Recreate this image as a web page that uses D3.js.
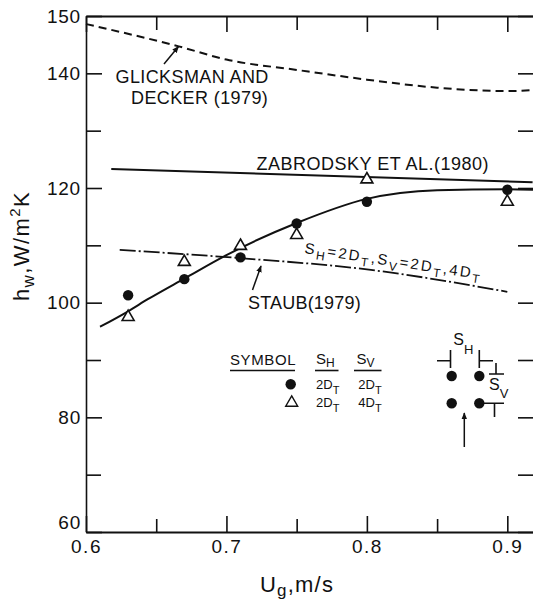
<!DOCTYPE html>
<html>
<head>
 <title>Wall heat transfer coefficient vs gas velocity</title>
 <script src="https://d3js.org/d3.v7.min.js"></script>
 <style>
   body { margin: 0; background: #fff; }
   svg { display: block; font-family: "Liberation Sans", Arial, Helvetica, sans-serif; }
   text { fill: #111; }
 </style>
</head>
<body>
 <div id="chart"></div>
 <script>
   // ticks
   let xMajor = [0.6, 0.7, 0.8, 0.9];
   let xMinor = [0.65, 0.75, 0.85];
   let yLabeled = [60, 80, 100, 120, 140, 150];
   let yMinor = [70, 90, 110, 130];

   // measured points, S_H = 2D_T, S_V = 2D_T (filled circles)
   let circleU = [0.63, 0.67, 0.71, 0.75, 0.80, 0.90];
   let circleH = [101.3, 104.1, 107.9, 113.8, 117.6, 119.7];
   // measured points, S_H = 2D_T, S_V = 4D_T (open triangles)
   let triangleU = [0.63, 0.67, 0.71, 0.75, 0.80, 0.90];
   let triangleH = [97.5, 107.1, 109.9, 111.8, 121.5, 117.6];

   // fitted curve through the data
   let fitU = [0.61, 0.63, 0.644, 0.67, 0.70, 0.75, 0.80, 0.85, 0.90, 0.919];
   let fitH = [95.8, 98.5, 100.6, 104.2, 108.3, 113.9, 118.1, 119.6, 119.8, 119.7];

   // correlations
   let glicksmanU = [0.6, 0.666, 0.7, 0.75, 0.8, 0.85, 0.9, 0.919];
   let glicksmanH = [148.6, 144.7, 142.4, 140.6, 138.9, 137.5, 136.9, 137.1];
   let zabrodskyU = [0.618, 0.918];
   let zabrodskyH = [123.3, 121.0];
   let staubU = [0.624, 0.708, 0.8, 0.9];
   let staubH = [109.2, 107.8, 105.8, 101.9];

   let width = 533, height = 601;

   let svg = d3.select('#chart').append('svg')
     .attr('width', width)
     .attr('height', height);

   // arrow head
   svg.append('defs').append('marker')
     .attr('id', 'head')
     .attr('viewBox', '0 0 10 10')
     .attr('refX', 9).attr('refY', 5)
     .attr('markerWidth', 7).attr('markerHeight', 7)
     .attr('markerUnits', 'userSpaceOnUse')
     .attr('orient', 'auto')
     .append('path')
     .attr('d', 'M0,1 L10,5 L0,9 Z')
     .attr('fill', '#111');

   // the right edge of the frame sits just outside the picture
   let x = d3.scaleLinear().domain([0.6, 0.919]).range([86, 534]);
   let y = d3.scaleLinear().domain([60, 150]).range([532, 16]);

   function styleAxis(g, w) {
     g.select('.domain').attr('stroke', '#111').attr('stroke-width', w);
     g.selectAll('.tick line').attr('stroke', '#111').attr('stroke-width', 1.6);
     g.selectAll('.tick text')
       .attr('fill', '#111')
       .style('font-size', '19px')
       .style('font-family', '"Liberation Sans", Arial, sans-serif');
   }

   // bottom axis
   svg.append('g')
     .attr('transform', 'translate(0,532)')
     .call(d3.axisBottom(x).tickValues(xMajor).tickFormat(d3.format('.1f'))
       .tickSizeInner(-16).tickSizeOuter(0).tickPadding(8))
     .call(g => styleAxis(g, 2))
     .call(g => g.selectAll('.tick text').attr('letter-spacing', 1.5));
   svg.append('g')
     .attr('transform', 'translate(0,532)')
     .call(d3.axisBottom(x).tickValues(xMinor).tickFormat('')
       .tickSizeInner(-13).tickSizeOuter(0))
     .call(g => styleAxis(g, 0));

   // top axis
   svg.append('g')
     .attr('transform', 'translate(0,16)')
     .call(d3.axisTop(x).tickValues(xMajor).tickFormat('')
       .tickSizeInner(-16).tickSizeOuter(0))
     .call(g => styleAxis(g, 2.2));
   svg.append('g')
     .attr('transform', 'translate(0,16)')
     .call(d3.axisTop(x).tickValues(xMinor).tickFormat('')
       .tickSizeInner(-14).tickSizeOuter(0))
     .call(g => styleAxis(g, 0));

   // left axis
   svg.append('g')
     .attr('transform', 'translate(86,0)')
     .call(d3.axisLeft(y).tickValues(yLabeled)
       .tickSizeInner(-16).tickSizeOuter(0).tickPadding(5))
     .call(g => styleAxis(g, 1.6))
     .call(g => g.selectAll('.tick text').attr('letter-spacing', 0.8))
     // the bottom label sits a little higher, clear of 0.6
     .call(g => g.selectAll('.tick text').filter(d => d === 60).attr('y', -10));
   svg.append('g')
     .attr('transform', 'translate(86,0)')
     .call(d3.axisLeft(y).tickValues(yMinor).tickFormat('')
       .tickSizeInner(-15).tickSizeOuter(0))
     .call(g => styleAxis(g, 0));

   // right axis (ticks only show)
   svg.append('g')
     .attr('transform', 'translate(534,0)')
     .call(d3.axisRight(y).tickValues(yLabeled.concat(yMinor)).tickFormat('')
       .tickSizeInner(-16).tickSizeOuter(0))
     .call(g => styleAxis(g, 1.6));

   // axis titles
   let xt = svg.append('text')
     .attr('x', 260).attr('y', 592)
     .style('font-size', '22px')
     .attr('letter-spacing', 1.2);
   xt.append('tspan').text('U');
   xt.append('tspan').attr('dy', 4).style('font-size', '17px').text('g');
   xt.append('tspan').attr('dy', -4).text(',m/s');

   let yt = svg.append('text')
     .attr('transform', 'translate(28.5,246) rotate(-90)')
     .attr('text-anchor', 'middle')
     .style('font-size', '22px')
     .attr('letter-spacing', 1.4);
   yt.append('tspan').text('h');
   yt.append('tspan').attr('dy', 5).style('font-size', '17px').text('w');
   yt.append('tspan').attr('dy', -5).text(',W/m');
   yt.append('tspan').attr('dy', -9).style('font-size', '15px').text('2');
   yt.append('tspan').attr('dy', 9).text('K');

   // curves
   let line = d3.line()
     .x(d => x(d[0]))
     .y(d => y(d[1]))
     .curve(d3.curveMonotoneX);

   svg.append('path')
     .datum(d3.zip(glicksmanU, glicksmanH))
     .attr('d', line)
     .attr('fill', 'none').attr('stroke', '#111').attr('stroke-width', 2)
     .attr('stroke-dasharray', '8,5');

   svg.append('path')
     .datum(d3.zip(zabrodskyU, zabrodskyH))
     .attr('d', line)
     .attr('fill', 'none').attr('stroke', '#111').attr('stroke-width', 2);

   svg.append('path')
     .datum(d3.zip(staubU, staubH))
     .attr('d', line)
     .attr('fill', 'none').attr('stroke', '#111').attr('stroke-width', 1.8)
     .attr('stroke-dasharray', '16,3,2,3');

   svg.append('path')
     .datum(d3.zip(fitU, fitH))
     .attr('d', line)
     .attr('fill', 'none').attr('stroke', '#111').attr('stroke-width', 2);

   // data markers
   let tri = d3.symbol().type(d3.symbolTriangle).size(62);

   svg.selectAll('.tri')
     .data(d3.zip(triangleU, triangleH))
     .enter()
     .append('path')
     .attr('class', 'tri')
     .attr('d', tri)
     .attr('transform', d => `translate(${x(d[0])},${y(d[1])})`)
     .attr('fill', '#fff').attr('stroke', '#111').attr('stroke-width', 1.6);

   svg.selectAll('.dot')
     .data(d3.zip(circleU, circleH))
     .enter()
     .append('circle')
     .attr('class', 'dot')
     .attr('cx', d => x(d[0]))
     .attr('cy', d => y(d[1]))
     .attr('r', 5.2)
     .attr('fill', '#111');

   // labels on the curves
   function label(tx, ty, str, ls) {
     return svg.append('text')
       .attr('x', tx).attr('y', ty)
       .style('font-size', '18px')
       .attr('letter-spacing', ls || 0)
       .text(str);
   }
   label(115.5, 82.6, 'GLICKSMAN AND', 0.4);
   label(131, 103.7, 'DECKER (1979)', 0.4);
   label(256.5, 170, 'ZABRODSKY ET AL.(1980)', 0.5);
   label(248, 308.5, 'STAUB(1979)', 0.2);

   // S_H=2D_T,S_V=2D_T,4D_T along the fitted data
   let sl = svg.append('text')
     .attr('transform', 'translate(304,253) rotate(8.4)')
     .style('font-size', '15px')
     .attr('letter-spacing', 2.2);
   [['S', 0], ['H', 1], ['=2D', 0], ['T', 1], [',S', 0], ['V', 1],
    ['=2D', 0], ['T', 1], [',4D', 0], ['T', 1]].forEach((p, i, a) => {
     let prev = i ? a[i - 1][1] : 0;
     sl.append('tspan')
       .attr('dy', p[1] === prev ? 0 : (p[1] ? 4.5 : -4.5))
       .style('font-size', p[1] ? '12px' : '15px')
       .text(p[0]);
   });

   // arrows
   let arrows = [
     [164, 64, 178.5, 46.5],
     [252.5, 290, 261, 266],
     [464.3, 447, 464.3, 413]
   ];
   svg.selectAll('.arrow')
     .data(arrows)
     .enter()
     .append('line')
     .attr('class', 'arrow')
     .attr('x1', d => d[0]).attr('y1', d => d[1])
     .attr('x2', d => d[2]).attr('y2', d => d[3])
     .attr('stroke', '#111').attr('stroke-width', 1.5)
     .attr('marker-end', 'url(#head)');

   // legend table
   let lg = svg.append('g');
   lg.append('text').attr('x', 230).attr('y', 365)
     .style('font-size', '15px').attr('letter-spacing', 0.6).text('SYMBOL');
   function subText(g, tx, ty, big, small, fs, fsSmall, drop) {
     let t = g.append('text').attr('x', tx).attr('y', ty).style('font-size', fs + 'px');
     t.append('tspan').text(big);
     t.append('tspan').attr('dy', drop).style('font-size', fsSmall + 'px').text(small);
     return t;
   }
   subText(lg, 316, 364, 'S', 'H', 15, 12, 3);
   subText(lg, 356.5, 364, 'S', 'V', 15, 12, 3);
   lg.selectAll('.ul')
     .data([[230, 295], [315, 338.5], [354, 381.5]])
     .enter()
     .append('line')
     .attr('x1', d => d[0]).attr('x2', d => d[1])
     .attr('y1', 370.5).attr('y2', 370.5)
     .attr('stroke', '#111').attr('stroke-width', 1.6);

   lg.append('circle').attr('cx', 290.7).attr('cy', 384.3).attr('r', 5.2).attr('fill', '#111');
   lg.append('path').attr('d', tri)
     .attr('transform', 'translate(291.7,402.8)')
     .attr('fill', '#fff').attr('stroke', '#111').attr('stroke-width', 1.4);
   subText(lg, 316, 388.5, '2D', 'T', 13, 11, 5);
   subText(lg, 358.3, 388.5, '2D', 'T', 13, 11, 5);
   subText(lg, 316, 407, '2D', 'T', 13, 11, 5);
   subText(lg, 358.3, 407, '4D', 'T', 13, 11, 5);

   // tube-bank sketch with pitch marks
   let sk = svg.append('g');
   [[451.7, 376], [479.3, 376], [451.7, 403.3], [479.3, 403.3]].forEach(c => {
     sk.append('circle').attr('cx', c[0]).attr('cy', c[1]).attr('r', 5.2).attr('fill', '#111');
   });
   sk.append('path')
     .attr('d', 'M437,360.7H450.5M450.5,350V368 M479.3,350V368M479.3,360.7H493 ' +
       'M496,363V374M489,374H504 M483,403.3H504M494.5,403.3V417')
     .attr('fill', 'none').attr('stroke', '#111').attr('stroke-width', 1.6);
   subText(sk, 453.3, 345, 'S', 'H', 16, 13, 9);
   subText(sk, 489, 390, 'S', 'V', 16, 13, 8);
 </script>
</body>
</html>
